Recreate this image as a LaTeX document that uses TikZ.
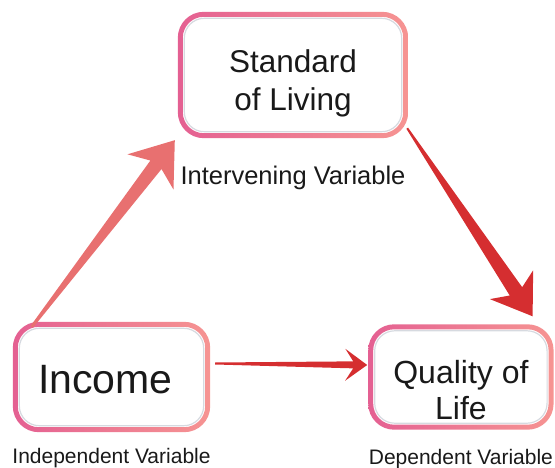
\documentclass[tikz,border=0pt]{standalone}
\usepackage{fontspec}
\setmainfont{Liberation Sans}
\usetikzlibrary{positioning,calc}

\definecolor{ringleft}{RGB}{228,96,146}
\definecolor{ringright}{RGB}{246,148,146}
\definecolor{ringshadow}{RGB}{214,218,224}
\definecolor{arrowsalmon}{RGB}{232,112,112}
\definecolor{arrowred}{RGB}{213,46,48}
\definecolor{textdark}{RGB}{25,25,25}

\tikzset{
  varbox/.style={inner sep=0pt, align=center, text=textdark},
  varlabel/.style={inner sep=0pt, text=textdark, font=\fontsize{21}{25}\selectfont},
}

% pink frame round a box
\newcommand{\ringbox}[1]{%
  \shade[left color=ringleft, right color=ringright, even odd rule]
    [rounded corners=26pt] (#1.south west) rectangle (#1.north east)
    [rounded corners=21pt] ($(#1.south west)+(5,-5)$) rectangle ($(#1.north east)+(-5,5)$);
  \draw[ringshadow, line width=1.2pt, rounded corners=20pt]
    ($(#1.south west)+(6.5,-6.5)$) rectangle ($(#1.north east)+(-6.5,6.5)$);}

% tapered arrow: colour, tail, tip, tail half width, joint, shaft half width, head length, head half width
\newcommand{\taperarrow}[8]{%
  \fill[#1] ($(#2)!#4pt!90:(#3)$)
    -- ($(#3)!#5pt!(#2)!#6pt!90:(#3)$)
    -- ($(#3)!#7pt!(#2)!#8pt!90:(#3)$)
    -- (#3)
    -- ($(#3)!#7pt!(#2)!#8pt!-90:(#3)$)
    -- ($(#3)!#5pt!(#2)!#6pt!-90:(#3)$)
    -- ($(#2)!#4pt!-90:(#3)$)
    -- cycle;}

\begin{document}
\begin{tikzpicture}[x=1pt,y=-1pt]
\useasboundingbox (0,0) rectangle (555,468);

\node[varbox,minimum width=230pt,minimum height=126pt,
  font=\fontsize{31.5}{38}\selectfont,text height=72pt,text depth=0pt] (living) at (293,75) {Standard\\of Living};
\node[varbox,minimum width=197pt,minimum height=110pt,
  font=\fontsize{41}{48}\selectfont,text height=32pt,text depth=0pt] (income) at (111.5,377) {\hspace*{-12pt}Income};
\node[varbox,right=158pt of income,minimum width=185pt,minimum height=105pt,
  font=\fontsize{32}{36}\selectfont,text height=85pt,text depth=0pt] (quality) {Quality of\\Life};

\node[varlabel,below=28pt of living,font=\fontsize{25.5}{30}\selectfont] (livinglbl) {Intervening Variable};
\node[varlabel,below=16pt of income] (incomelbl) {Independent Variable};
\node[varlabel,below=19pt of quality] (qualitylbl) {Dependent Variable};

\foreach \n in {living,income,quality} {\ringbox{\n}}

\coordinate (tailA) at ($(income.north west)+(19,5)$);
\coordinate (tipA) at ($(living.south west)+(-3,2)$);
\coordinate (tailB) at ($(living.south east)+(-1,-10)$);
\coordinate (tipB) at ($(quality.north east)+(-21,-8)$);
\coordinate (tailC) at ($(income.east)+(5,-13.5)$);
\coordinate (tipC) at ($(quality.west)+(-1,-12)$);

\taperarrow{arrowsalmon}{tailA}{tipA}{1.5}{31}{7}{40}{29}
\taperarrow{arrowred}{tailB}{tipB}{1}{30}{7.5}{38}{26}
\taperarrow{arrowred}{tailC}{tipC}{1}{14}{3.5}{22}{16}
\end{tikzpicture}
\end{document}
